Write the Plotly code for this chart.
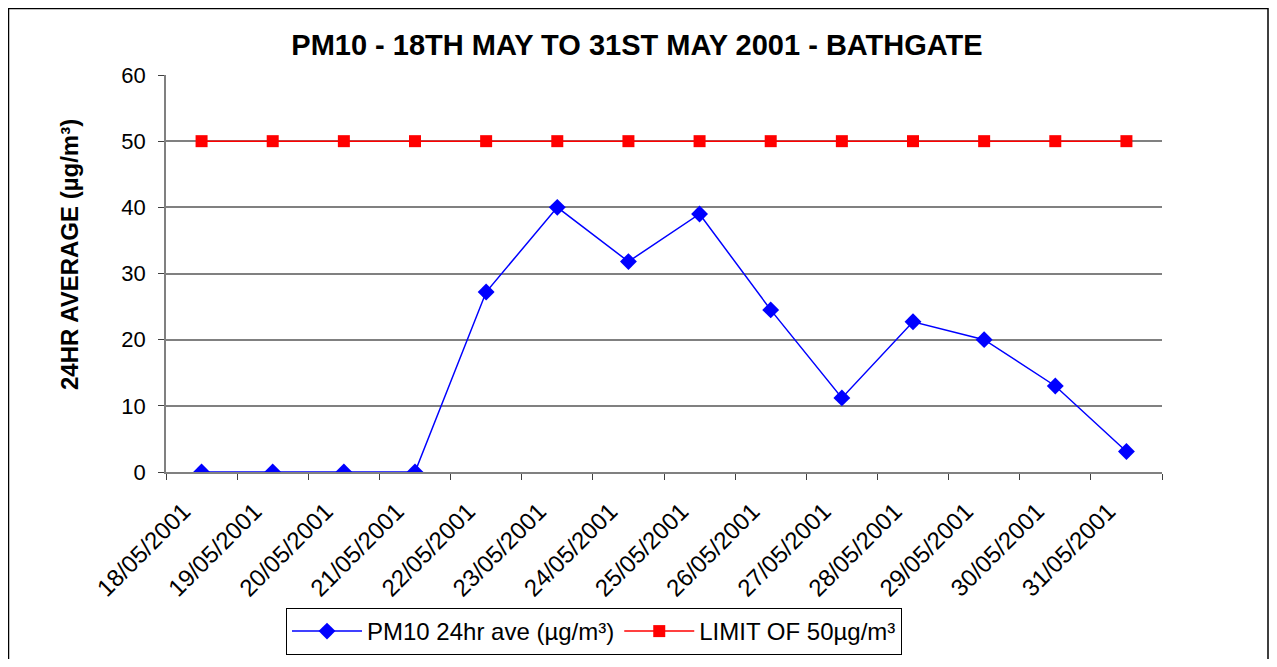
import plotly.graph_objects as go

dates = ["18/05/2001", "19/05/2001", "20/05/2001", "21/05/2001", "22/05/2001",
         "23/05/2001", "24/05/2001", "25/05/2001", "26/05/2001", "27/05/2001",
         "28/05/2001", "29/05/2001", "30/05/2001", "31/05/2001"]
pm10 = [0, 0, 0, 0, 27.2, 40.0, 31.8, 39.0, 24.5, 11.2, 22.7, 20.0, 13.0, 3.1]
limit = [50] * 14

FONT = "Liberation Sans, Arial, sans-serif"
OFF = 8  # default page body margin

fig = go.Figure()
fig.add_trace(go.Scatter(
    x=dates, y=pm10, mode="lines+markers", name="PM10 24hr ave (µg/m³)",
    line=dict(color="#0000FF", width=1.5),
    marker=dict(symbol="diamond", size=13, color="#0000FF")))
fig.add_trace(go.Scatter(
    x=dates, y=limit, mode="lines+markers", name="LIMIT OF 50µg/m³",
    line=dict(color="#FF0000", width=1.5),
    marker=dict(symbol="square", size=12, color="#FF0000")))

W, H = 1277 - 2 * OFF, 667 - 2 * OFF
L, R, T, B = 166 - OFF, 1162 - OFF, 75 - OFF, 472 - OFF
pw, ph = R - L, B - T

def px(x):
    return (x - OFF - L) / pw

def py(y):
    return (B - (y - OFF)) / ph

fig.update_layout(
    width=W, height=H,
    margin=dict(l=L, r=W - R, t=T, b=H - B, autoexpand=False),
    paper_bgcolor="white", plot_bgcolor="white",
    font=dict(family=FONT, size=22, color="black"),
    title=dict(text="<b>PM10 - 18TH MAY TO 31ST MAY 2001 - BATHGATE</b>",
               x=(637 - OFF) / W, xanchor="center", xref="container",
               y=1 - (45 - OFF) / H, yanchor="middle",
               font=dict(family=FONT, size=29, color="black")),
    showlegend=True,
    legend=dict(orientation="h", x=px(594), xanchor="center",
                y=py(655), yanchor="bottom", itemwidth=70,
                bordercolor="black", borderwidth=1, bgcolor="white",
                font=dict(family=FONT, size=24)),
    xaxis=dict(type="category", tickangle=-45, tickson="boundaries",
               ticks="outside", ticklen=6, tickcolor="#404040",
               showline=True, linecolor="#808080", linewidth=1.5,
               showgrid=False, tickfont=dict(family=FONT, size=24),
               ticklabelstandoff=14, ticklabelshift=-18,
               range=[-0.5, 13.5]),
    yaxis=dict(range=[0, 60], dtick=10, ticks="outside", ticklen=6,
               tickcolor="#404040", showline=True, linecolor="#808080",
               linewidth=1.5, showgrid=True, gridcolor="#808080", gridwidth=1.5,
               zeroline=False, tickfont=dict(family=FONT, size=22),
               ticklabelstandoff=8),
    annotations=[dict(text="<b>24HR AVERAGE (µg/m³)</b>", textangle=-90,
                      xref="paper", yref="paper", x=px(69), y=py(255),
                      xanchor="center", yanchor="middle", showarrow=False,
                      font=dict(family=FONT, size=24, color="black"))],
    shapes=[dict(type="rect", xref="paper", yref="paper",
                 x0=px(8.5), x1=px(1268), y0=py(680), y1=py(8.5),
                 line=dict(color="black", width=1.5), layer="below")],
)

fig.write_html("out.html")
